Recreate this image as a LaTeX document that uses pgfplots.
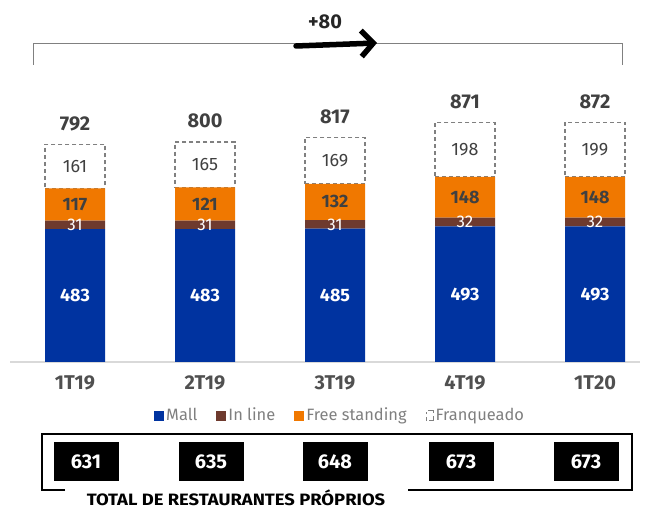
\documentclass[border=0pt]{standalone}
\usepackage{pgfplots}
\pgfplotsset{compat=1.18}
\usepackage{pgfplotstable}
\usepackage{fontspec}
\setmainfont{Fira Sans}
\usetikzlibrary{arrows.meta}
\definecolor{mall}{HTML}{0033A0}
\definecolor{inline}{HTML}{6E3A2E}
\definecolor{free}{HTML}{F07800}
\definecolor{frgray}{HTML}{808080}
\definecolor{darktext}{HTML}{404040}
\definecolor{ticktext}{HTML}{505050}
\definecolor{legtext}{HTML}{7F7F7F}
\definecolor{basegray}{HTML}{D9D9D9}
\tikzset{
  tot/.style={anchor=base, font=\fontsize{20}{22}\selectfont\bfseries, text=darktext, yshift=14bp},
  lmall/.style={font=\fontsize{18}{20}\selectfont\bfseries, text=white},
  linl/.style={font=\fontsize{17}{19}\selectfont, text=white},
  lfree/.style={font=\fontsize{18}{20}\selectfont\bfseries, text=darktext},
  lfran/.style={font=\fontsize{18}{20}\selectfont, text=darktext},
}
\pgfplotstableread{
x mall inline free fran total
0 483 31 117 161 792
1 483 31 121 165 800
2 485 31 132 169 817
3 493 32 148 198 871
4 493 32 148 199 872
}\data
\begin{document}
\begin{tikzpicture}[x=1bp,y=1bp]
\useasboundingbox (0,0) rectangle (648,510);
\draw[basegray, line width=1.5bp] (10,148) -- (640,148);
\begin{axis}[at={(10bp,148bp)}, anchor=south west, scale only axis,
  width=630bp, height=275bp, xmin=-0.5, xmax=4.34615, ymin=0, ymax=1000,
  ybar stacked, bar width=60bp, axis line style={draw=none}, ytick=\empty,
  xtick={0,...,4}, xticklabels={1T19,2T19,3T19,4T19,1T20}, major tick length=0,
  xticklabel style={anchor=center, yshift=-21bp, font=\fontsize{20}{22}\selectfont\bfseries, text=ticktext},
  clip=false,
  legend style={at={(0.524,-0.193)}, anchor=center, draw=none, fill=none, legend columns=4,
    font=\fontsize{16.5}{18}\selectfont, text=legtext, inner sep=0pt,
    /tikz/every even column/.append style={column sep=17bp},
    /tikz/every odd column/.append style={column sep=0bp}},
  legend cell align=left]
\addplot[fill=mall, draw=none, legend image code/.code={\fill[mall] (2bp,-5.5bp) rectangle (12bp,4.5bp);}] table[x=x,y=mall]{\data};
\addplot[fill=inline, draw=none, legend image code/.code={\fill[inline] (2bp,-5.5bp) rectangle (12bp,4.5bp);}] table[x=x,y=inline]{\data};
\addplot[fill=free, draw=none, legend image code/.code={\fill[free] (2bp,-5.5bp) rectangle (12bp,4.5bp);}] table[x=x,y=free]{\data};
\addplot[fill=white, draw=frgray, line width=1.3bp, dash pattern=on 4bp off 3bp,
  legend image code/.code={\draw[frgray, fill=none, solid, line width=1bp] (4bp,-5.5bp) -- (4bp,-2bp) (4bp,1bp)--(4bp,3bp) (6bp,4.5bp) -- (11bp,4.5bp) -- (11bp,2bp) (11bp,-1bp) -- (11bp,-5.5bp) -- (7bp,-5.5bp);}] table[x=x,y=fran]{\data};
\legend{Mall,In line,Free standing,Franqueado}
\foreach \i/\t in {0/792,1/800,2/817,3/871,4/872}{
  \edef\temp{\noexpand\coordinate (t\i) at (axis cs:\i,\t);}\temp}
\foreach \i/\v in {0/483,1/483,2/485,3/493,4/493}{
  \edef\temp{\noexpand\coordinate (m\i) at (axis cs:\i,\v/2);}\temp}
\foreach \i/\b/\v in {0/483/31,1/483/31,2/485/31,3/493/32,4/493/32}{
  \edef\temp{\noexpand\coordinate (l\i) at (axis cs:\i,\b+\v/2);}\temp}
\foreach \i/\b/\v in {0/514/117,1/514/121,2/516/132,3/525/148,4/525/148}{
  \edef\temp{\noexpand\coordinate (f\i) at (axis cs:\i,\b+\v/2);}\temp}
\foreach \i/\b/\v in {0/631/161,1/635/165,2/648/169,3/673/198,4/673/199}{
  \edef\temp{\noexpand\coordinate (q\i) at (axis cs:\i,\b+\v/2);}\temp}
\end{axis}
\foreach \i/\t in {0/792,1/800,2/817,3/871,4/872} \node[tot] at (t\i) {\t};
\foreach \i/\v in {0/483,1/483,2/485,3/493,4/493} \node[lmall] at (m\i) {\v};
\foreach \i/\v in {0/31,1/31,2/31,3/32,4/32} \node[linl] at (l\i) {\v};
\foreach \i/\v in {0/117,1/121,2/132,3/148,4/148} \node[lfree] at (f\i) {\v};
\foreach \i/\v in {0/161,1/165,2/169,3/198,4/199} \node[lfran] at (q\i) {\v};
% top bracket
\draw[frgray, line width=0.9bp] (33,445) -- (33,467) -- (622,467) -- (622,445);
\draw[line width=5.5bp, line cap=round, -{Straight Barb[length=12bp,width=26bp,line width=5.5bp]}] (296,464) -- (377,467);
\node[font=\fontsize{20}{22}\selectfont\bfseries, text=black!85] at (325,488) {+80};
% bottom box
\draw[line width=1.3bp] (65,20) -- (42,20) -- (42,76) -- (632,76) -- (632,20) -- (408,20);
\foreach \x/\v in {86/631,211/635,335/648,461/673,586/673}
  \node[fill=black, text=white, minimum width=65bp, minimum height=39bp, inner sep=0pt, font=\fontsize{20}{22}\selectfont\bfseries] at (\x,48) {\v};
\node[anchor=base, inner sep=0pt, font=\fontsize{16.5}{17}\selectfont\bfseries, text=black] at (236,4) {\scalebox{1.12}[1]{TOTAL DE RESTAURANTES PRÓPRIOS}};
\end{tikzpicture}
\end{document}
